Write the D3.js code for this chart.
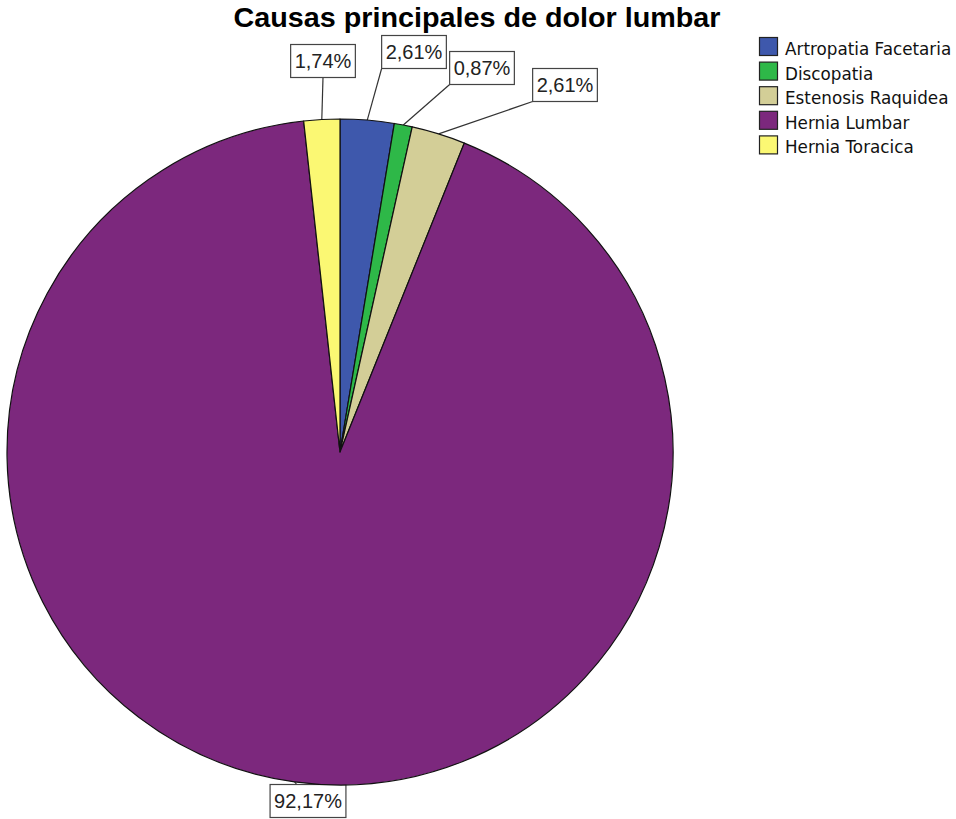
<!DOCTYPE html>
<html>
<head>
<meta charset="utf-8">
<script src="https://cdn.jsdelivr.net/npm/d3@7"></script>
<style>
  html, body { margin: 0; padding: 0; background: #fff; }
  svg { display: block; font-family: "Liberation Sans", Arial, sans-serif; }
</style>
</head>
<body>
<svg id="chart" width="956" height="819"></svg>
<script>
// Causes of low back pain, percent of cases
const categories = ["Artropatia Facetaria", "Discopatia", "Estenosis Raquidea", "Hernia Lumbar", "Hernia Toracica"];
const percents = [2.61, 0.87, 2.61, 92.17, 1.74];
const colors = ["#3E58AC", "#2EB848", "#D3CE97", "#7C287D", "#FBF873"];
const percentLabels = ["2,61%", "0,87%", "2,61%", "92,17%", "1,74%"];

// Callout box placement (centre of each box, px) and where its leader attaches
const calloutLayout = [
  { cx: 414, cy: 52, attach: "bl" },
  { cx: 482, cy: 68, attach: "bl" },
  { cx: 565, cy: 85, attach: "bl" },
  { cx: 308, cy: 801, attach: "t" },
  { cx: 323, cy: 61, attach: "b" }
];

const svg = d3.select("#chart");
const cx = 340, cy = 452, R = 333;

svg.append("text")
  .attr("x", 477).attr("y", 27)
  .attr("text-anchor", "middle")
  .attr("font-size", 27).attr("font-weight", "bold")
  .attr("textLength", 487).attr("lengthAdjust", "spacingAndGlyphs")
  .attr("fill", "#000")
  .text("Causas principales de dolor lumbar");

const data = categories.map((c, i) => ({ name: c, value: percents[i], color: colors[i], label: percentLabels[i], layout: calloutLayout[i] }));

const pie = d3.pie().value(d => d.value).sort(null);
const arcs = pie(data);
const arc = d3.arc().innerRadius(0).outerRadius(R);

const g = svg.append("g").attr("transform", `translate(${cx},${cy})`);
g.selectAll("path.slice").data(arcs).join("path")
  .attr("class", "slice")
  .attr("d", arc)
  .attr("fill", d => d.data.color)
  .attr("stroke", "#111")
  .attr("stroke-width", 1.2)
  .attr("stroke-linejoin", "round");

// Callout labels with leader lines
const boxH = 33;
arcs.forEach(a => {
  const mid = (a.startAngle + a.endAngle) / 2;
  const px = cx + R * Math.sin(mid), py = cy - R * Math.cos(mid);
  const L = a.data.layout;
  const t = svg.append("text")
    .attr("x", L.cx).attr("y", L.cy + 7)
    .attr("text-anchor", "middle")
    .attr("font-size", 20).attr("fill", "#222")
    .text(a.data.label);
  const w = t.node().getComputedTextLength() + 8;
  const x0 = L.cx - w / 2, y0 = L.cy - boxH / 2;
  let ax, ay;
  if (L.attach === "bl") { ax = x0; ay = y0 + boxH; }
  else if (L.attach === "b") { ax = L.cx; ay = y0 + boxH; }
  else { ax = px + 2; ay = y0; }
  svg.insert("line", "text")
    .attr("x1", px).attr("y1", py).attr("x2", ax).attr("y2", ay)
    .attr("stroke", "#333").attr("stroke-width", 1.2);
  svg.insert("rect", "text")
    .attr("x", x0).attr("y", y0).attr("width", w).attr("height", boxH)
    .attr("fill", "#fff").attr("stroke", "#444").attr("stroke-width", 1.2);
});

// Legend
const legend = svg.append("g").attr("transform", "translate(759,37)");
const rowH = 24.6;
const items = legend.selectAll("g").data(data).join("g")
  .attr("transform", (d, i) => `translate(0,${i * rowH})`);
items.append("rect")
  .attr("x", 0.5).attr("y", 0.5).attr("width", 18).attr("height", 18)
  .attr("fill", d => d.color).attr("stroke", "#222").attr("stroke-width", 1.2);
items.append("text")
  .attr("x", 26).attr("y", 18)
  .attr("font-family", "'DejaVu Sans', sans-serif")
  .attr("font-size", 16.8).attr("fill", "#111")
  .text(d => d.name);
</script>
</body>
</html>
